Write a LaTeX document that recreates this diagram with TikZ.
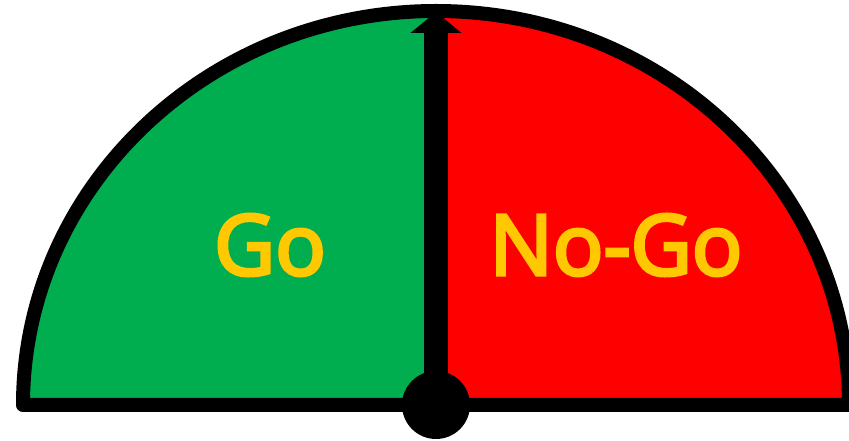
\documentclass[tikz,border=0pt]{standalone}
\usepackage{fontspec}
\setmainfont{Open Sans}
\newfontfamily\gaugefont{Open Sans}[UprightFeatures={FakeBold=4}]
\usetikzlibrary{arrows.meta}
\definecolor{gogreen}{HTML}{00AE50}
\definecolor{nogored}{HTML}{FF0000}
\definecolor{labelyellow}{HTML}{FFC800}
\tikzset{
  gauge label/.style={text=labelyellow,font=\gaugefont\fontsize{84}{100}\selectfont,anchor=base,inner sep=0pt},
  gauge rim/.style={line width=14pt,line join=round},
  needle/.style={line width=24pt,-{Triangle[width=50pt,length=21pt]}}
}
\begin{document}
\begin{tikzpicture}[x=1pt,y=1pt]
\useasboundingbox (0,0) rectangle (849,441);
%hub and needle end
\coordinate (hub) at (436,36);
\coordinate (top) at (436,429);
%halves
\fill[gogreen] (hub) -- ++(-413,0) arc[start angle=180,end angle=90,x radius=413,y radius=394] -- cycle;
\fill[nogored] (hub) -- ++(413,0) arc[start angle=0,end angle=90,x radius=413,y radius=394] -- cycle;
%labels
\node[gauge label] (go) at (270,166) {Go};
\node[gauge label] (nogo) at (616,166) {No-Go};
%rim
\draw[gauge rim] (hub) ++(-413,0) arc[start angle=180,end angle=0,x radius=413,y radius=394] -- cycle;
%needle
\draw[needle] (hub) -- (top);
\fill (hub) circle[radius=34];
\end{tikzpicture}
\end{document}
